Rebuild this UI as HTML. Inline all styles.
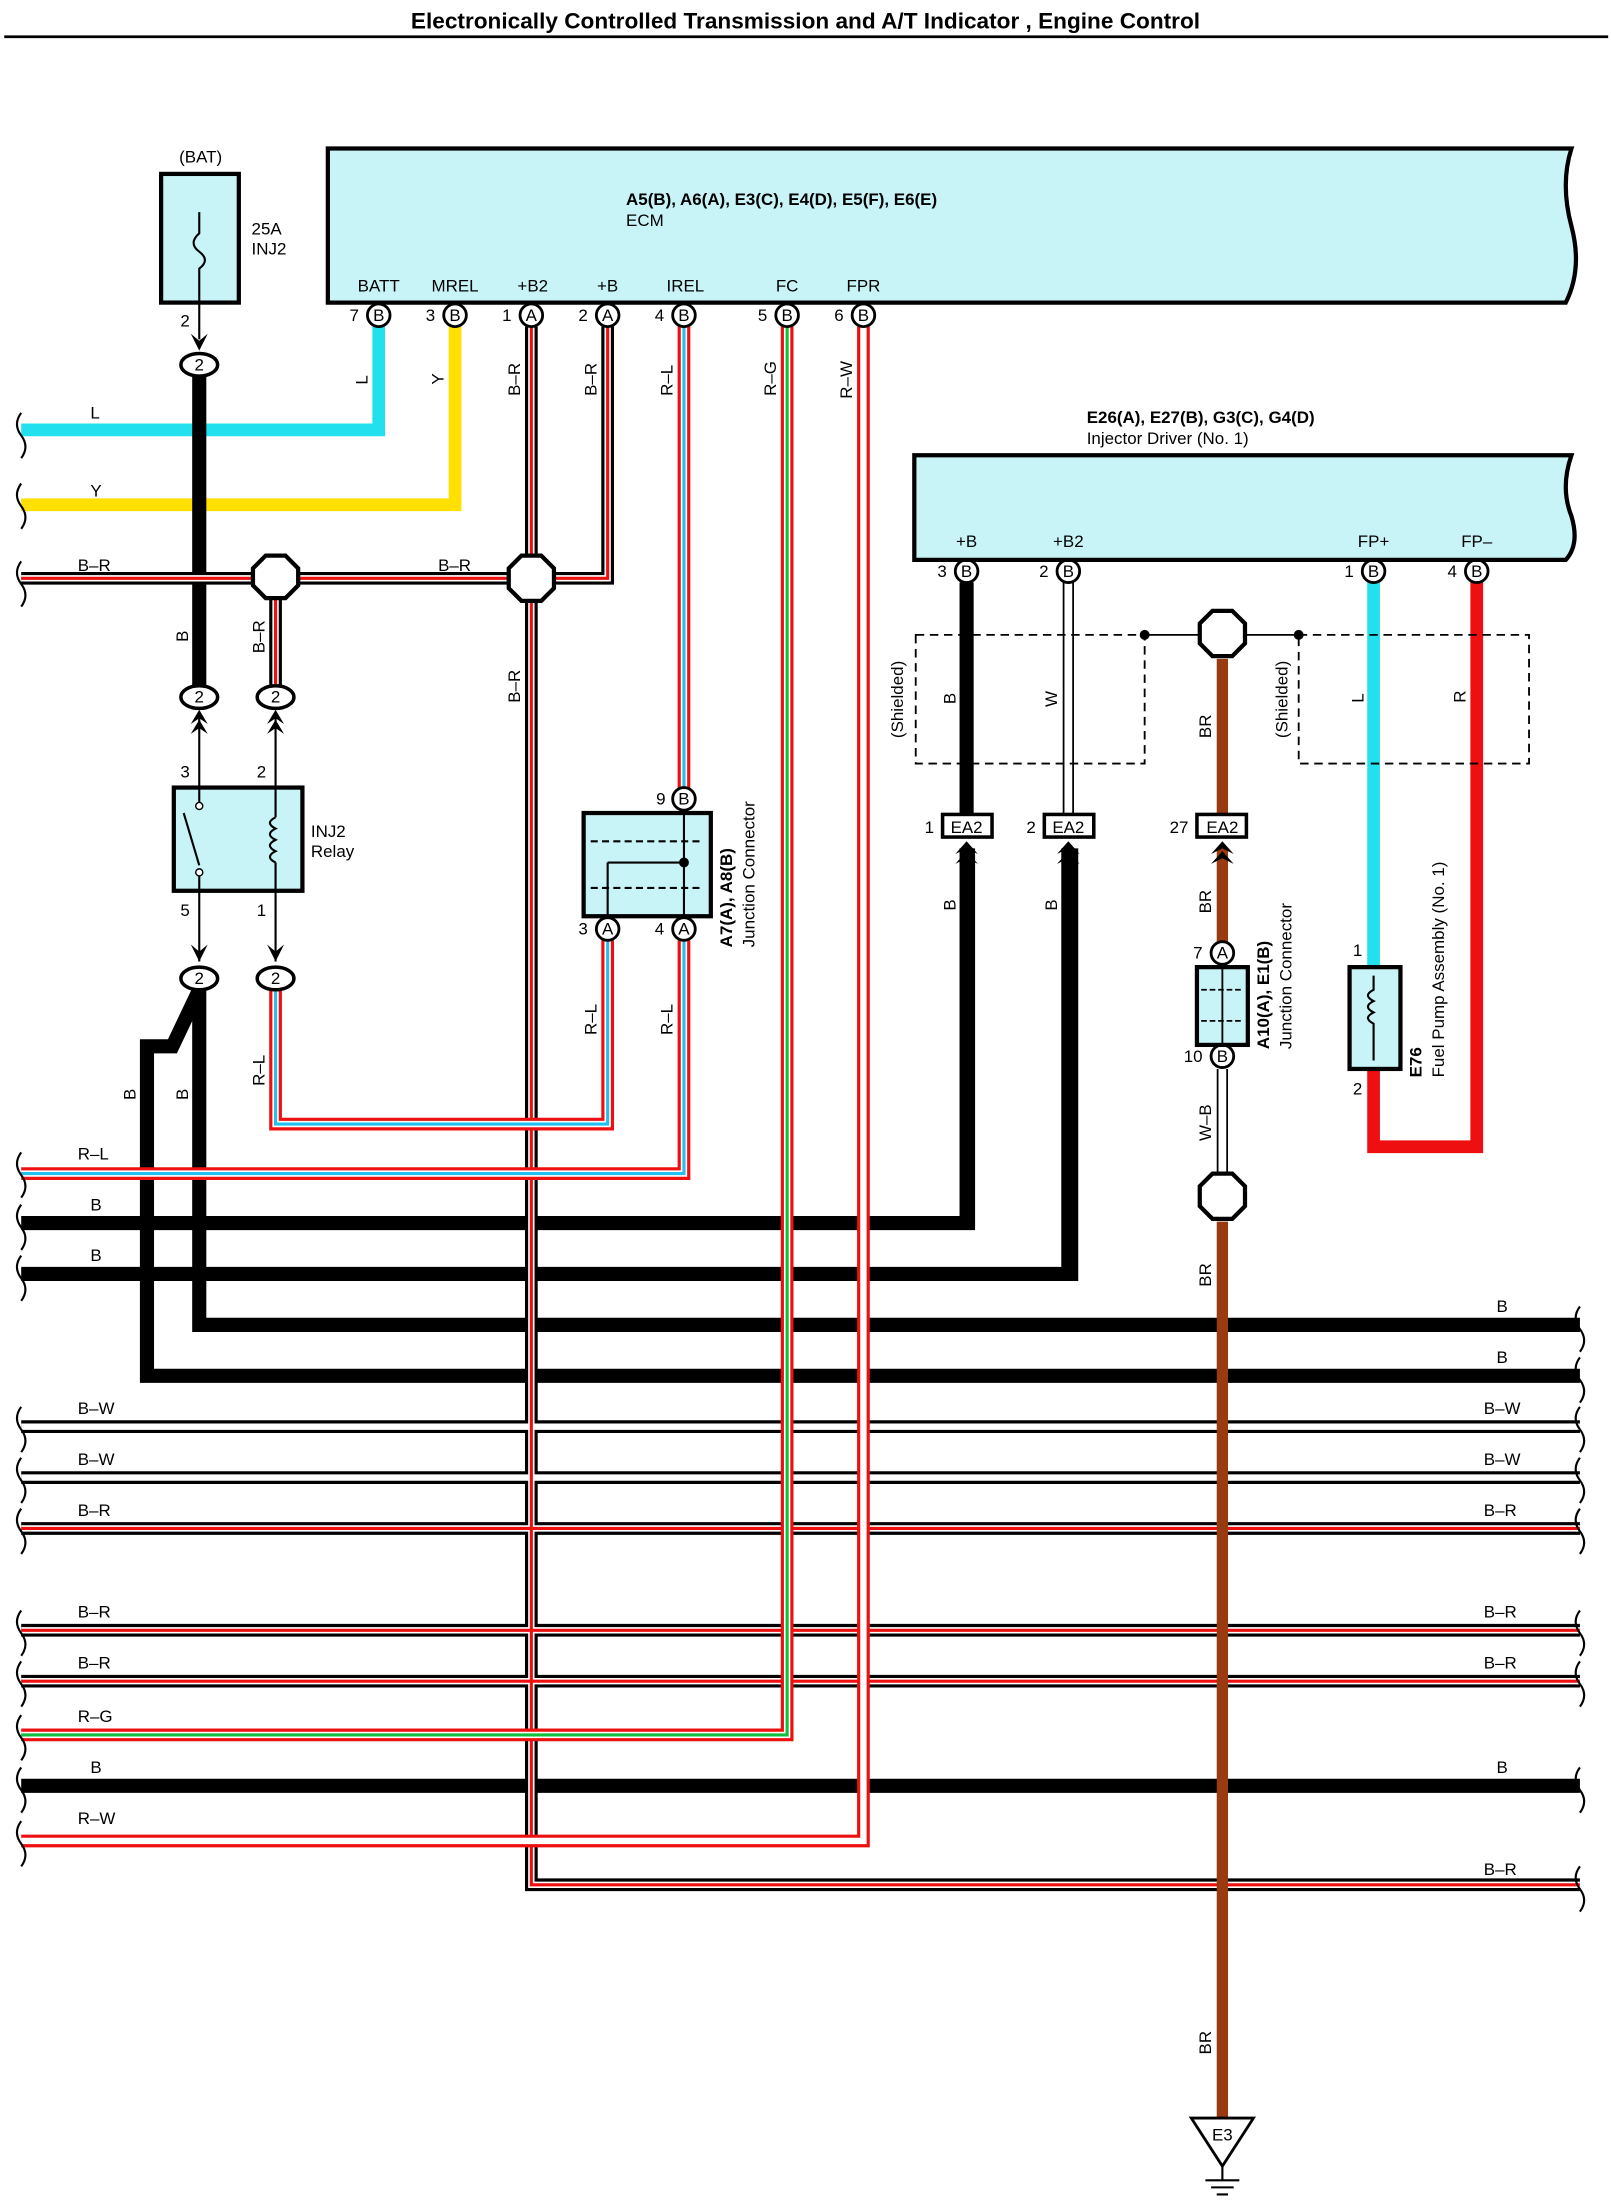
<!DOCTYPE html>
<html><head><meta charset="utf-8"><style>
html,body{margin:0;padding:0;background:#fff;}
svg{display:block;}
text{font-family:"Liberation Sans",Arial,sans-serif;font-size:12px;fill:#000;}
.b{font-weight:bold;}
</style></head><body>
<svg width="1611" height="2210" viewBox="0 0 1140 1563" preserveAspectRatio="none" xmlns="http://www.w3.org/2000/svg" xmlns:xlink="http://www.w3.org/1999/xlink">
<defs>
<path id="wL" d="M268,231 V304 H15"/>
<path id="wY" d="M322,231 V357 H15"/>
<path id="wBRa" d="M15,409 H376"/>
<path id="wBRb" d="M376,231 V1333 H1118"/>
<path id="wBRc" d="M430,231 V409 H376"/>
<path id="wBRd" d="M195,409 V486"/>
<path id="wB1" d="M141,266 V486"/>
<path id="wRL1" d="M195,700 V795 H430 V665"/>
<path id="wIREL" d="M484,231 V557"/>
<path id="wRL2" d="M484,665 V830 H15"/>
<path id="wB2" d="M15,865 H685 V600"/>
<path id="wB3" d="M15,901 H758 V600"/>
<path id="wFC" d="M557,231 V1227 H15"/>
<path id="wFPR" d="M611,231 V1302 H15"/>
<path id="wB4" d="M141,700 V937 H1118"/>
<path id="wB5" d="M141,700 L122,740 H104 V973 H1118"/>
<path id="sBW1" d="M15,1009 H1118"/>
<path id="sBW2" d="M15,1045 H1118"/>
<path id="sBR1" d="M15,1081 H1118"/>
<path id="sBR2" d="M15,1153 H1118"/>
<path id="sBR3" d="M15,1189 H1118"/>
<path id="sB" d="M15,1263 H1118"/>
<path id="iW" d="M756,412 V576"/>
<path id="iWB" d="M865,756 V830"/>
</defs>

<text x="570" y="20" text-anchor="middle" class="b" style="font-size:16px">Electronically Controlled Transmission and A/T Indicator , Engine Control</text>
<line x1="3" y1="26" x2="1138" y2="26" stroke="#000" stroke-width="2"/>

<!-- ECM box -->
<path d="M232,105 H1112 Q1104,130 1112,160 Q1120,190 1108,214 H232 Z" fill="#c8f4f8" stroke="#000" stroke-width="3"/>
<text x="443" y="145" class="b">A5(B), A6(A), E3(C), E4(D), E5(F), E6(E)</text>
<text x="443" y="160">ECM</text>
<g text-anchor="middle">
<text x="268" y="206">BATT</text><text x="322" y="206">MREL</text><text x="377" y="206">+B2</text><text x="430" y="206">+B</text><text x="485" y="206">IREL</text><text x="557" y="206">FC</text><text x="611" y="206">FPR</text>
</g>

<!-- Fuse -->
<rect x="114" y="123" width="55" height="91" fill="#c8f4f8" stroke="#000" stroke-width="3"/>
<path d="M141,150 V165 Q133,172 141,178 Q149,184 141,190 V214" fill="none" stroke="#000" stroke-width="1.5"/>
<text x="142" y="115" text-anchor="middle">(BAT)</text>
<text x="178" y="166">25A</text><text x="178" y="180">INJ2</text>
<text x="131" y="231" text-anchor="middle">2</text>
<line x1="141" y1="214" x2="141" y2="240" stroke="#000" stroke-width="1.5"/>
<path d="M135,236 L141,248 L147,236 L141,241 Z" fill="#000"/>

<!-- wires: solid -->
<g fill="none" stroke-linejoin="miter">
<use href="#wL" stroke="#22e0ee" stroke-width="9"/>
<use href="#wY" stroke="#ffe000" stroke-width="9"/>
<use href="#wB1" stroke="#000" stroke-width="10"/>
<use href="#wB2" stroke="#000" stroke-width="10"/>
<use href="#wB3" stroke="#000" stroke-width="10"/>
<use href="#wB4" stroke="#000" stroke-width="10"/>
<use href="#wB5" stroke="#000" stroke-width="10"/>
<use href="#sB" stroke="#000" stroke-width="10"/>
<!-- B-R style -->
<g stroke="#000" stroke-width="9"><use href="#wBRa"/><use href="#wBRb"/><use href="#wBRc"/><use href="#wBRd"/><use href="#sBR1"/><use href="#sBR2"/><use href="#sBR3"/><use href="#sBW1"/><use href="#sBW2"/></g>
<g stroke="#fff" stroke-width="4.5"><use href="#wBRa"/><use href="#wBRb"/><use href="#wBRc"/><use href="#wBRd"/><use href="#sBR1"/><use href="#sBR2"/><use href="#sBR3"/><use href="#sBW1"/><use href="#sBW2"/></g>
<g stroke="#ee1010" stroke-width="2.2"><use href="#wBRa"/><use href="#wBRb"/><use href="#wBRc"/><use href="#wBRd"/><use href="#sBR1"/><use href="#sBR2"/><use href="#sBR3"/></g>
<!-- R-L -->
<g stroke="#ee1010" stroke-width="9"><use href="#wRL1"/><use href="#wIREL"/><use href="#wRL2"/><use href="#wFC"/><use href="#wFPR"/></g>
<g stroke="#fff" stroke-width="4.5"><use href="#wRL1"/><use href="#wIREL"/><use href="#wRL2"/><use href="#wFC"/><use href="#wFPR"/></g>
<g stroke="#22c0ee" stroke-width="2.2"><use href="#wRL1"/><use href="#wIREL"/><use href="#wRL2"/></g>
<use href="#wFC" stroke="#10c040" stroke-width="2.2"/>
<!-- W, W-B -->
<g stroke="#000" stroke-width="8"><use href="#iW"/><use href="#iWB"/></g>
<g stroke="#fff" stroke-width="5.5"><use href="#iW"/><use href="#iWB"/></g>
<!-- injector side -->
<path d="M684,412 V576 M684,600 V865" stroke="#000" stroke-width="10"/>
<path d="M756,600 V901" stroke="#000" stroke-width="10"/>
<path d="M865,466 V576 M865,600 V666 M865,864 V1500" stroke="#9a3a10" stroke-width="8"/>
<path d="M972,412 V684" stroke="#22e0ee" stroke-width="9"/>
<path d="M1045,412 V811 H972 V756" stroke="#ee1010" stroke-width="9"/>
</g>

<!-- wavy ends -->
<g fill="none" stroke="#000" stroke-width="1.5">
<path d="M15,292 q-6,8 0,16 q6,8 0,16"/><path d="M15,342 q-6,8 0,16 q6,8 0,16"/><path d="M15,397 q-6,8 0,16 q6,8 0,16"/>
<path d="M15,815 q-6,8 0,16 q6,8 0,16"/><path d="M15,852 q-6,8 0,16 q6,8 0,16"/><path d="M15,888 q-6,8 0,16 q6,8 0,16"/>
<path d="M15,995 q-6,8 0,16 q6,8 0,16"/><path d="M15,1031 q-6,8 0,16 q6,8 0,16"/><path d="M15,1067 q-6,8 0,16 q6,8 0,16"/>
<path d="M15,1139 q-6,8 0,16 q6,8 0,16"/><path d="M15,1175 q-6,8 0,16 q6,8 0,16"/><path d="M15,1213 q-6,8 0,16 q6,8 0,16"/>
<path d="M15,1250 q-6,8 0,16 q6,8 0,16"/><path d="M15,1288 q-6,8 0,16 q6,8 0,16"/>
<path d="M1118,924 q-6,8 0,16 q6,8 0,16"/><path d="M1118,960 q-6,8 0,16 q6,8 0,16"/><path d="M1118,995 q-6,8 0,16 q6,8 0,16"/>
<path d="M1118,1031 q-6,8 0,16 q6,8 0,16"/><path d="M1118,1067 q-6,8 0,16 q6,8 0,16"/><path d="M1118,1139 q-6,8 0,16 q6,8 0,16"/>
<path d="M1118,1175 q-6,8 0,16 q6,8 0,16"/><path d="M1118,1250 q-6,8 0,16 q6,8 0,16"/><path d="M1118,1320 q-6,8 0,16 q6,8 0,16"/>
</g>

<!-- ECM pins -->
<g stroke="#000" stroke-width="2" fill="#fff">
<circle cx="268" cy="223" r="8"/><circle cx="322" cy="223" r="8"/><circle cx="376" cy="223" r="8"/><circle cx="430" cy="223" r="8"/><circle cx="484" cy="223" r="8"/><circle cx="557" cy="223" r="8"/><circle cx="611" cy="223" r="8"/>
<circle cx="484" cy="565" r="8"/><circle cx="430" cy="657" r="8"/><circle cx="484" cy="657" r="8"/>
<circle cx="684" cy="404" r="8"/><circle cx="756" cy="404" r="8"/><circle cx="972" cy="404" r="8"/><circle cx="1045" cy="404" r="8"/>
<circle cx="865" cy="674" r="8"/><circle cx="865" cy="747" r="8"/>
</g>
<g text-anchor="middle" style="font-size:11px">
<text x="268" y="227">B</text><text x="322" y="227">B</text><text x="376" y="227">A</text><text x="430" y="227">A</text><text x="484" y="227">B</text><text x="557" y="227">B</text><text x="611" y="227">B</text>
<text x="484" y="569">B</text><text x="430" y="661">A</text><text x="484" y="661">A</text>
<text x="684" y="408">B</text><text x="756" y="408">B</text><text x="972" y="408">B</text><text x="1045" y="408">B</text>
<text x="865" y="678">A</text><text x="865" y="751">B</text>
</g>
<g text-anchor="end">
<text x="254" y="227">7</text><text x="308" y="227">3</text><text x="362" y="227">1</text><text x="416" y="227">2</text><text x="470" y="227">4</text><text x="543" y="227">5</text><text x="597" y="227">6</text>
<text x="471" y="569">9</text><text x="416" y="661">3</text><text x="470" y="661">4</text>
<text x="670" y="408">3</text><text x="742" y="408">2</text><text x="958" y="408">1</text><text x="1031" y="408">4</text>
<text x="851" y="678">7</text><text x="851" y="751">10</text>
</g>

<!-- octagon junctions -->
<g fill="#fff" stroke="#000" stroke-width="3">
<path d="M188,395 h14 l9,9 v12 l-9,9 h-14 l-9,-9 v-12 z" transform="translate(0,-2)"/>
<path d="M369,393 h14 l9,9 v14 l-9,9 h-14 l-9,-9 v-14 z"/>
<path d="M858,432 h14 l9,9 v14 l-9,9 h-14 l-9,-9 v-14 z"/>
<path d="M858,830 h14 l9,9 v14 l-9,9 h-14 l-9,-9 v-14 z"/>
</g>

<!-- oval connectors -->
<g fill="#fff" stroke="#000" stroke-width="2.5">
<ellipse cx="141" cy="258" rx="13" ry="8"/><ellipse cx="141" cy="493" rx="13" ry="8"/><ellipse cx="195" cy="493" rx="13" ry="8"/>
<ellipse cx="141" cy="692" rx="13" ry="8"/><ellipse cx="195" cy="692" rx="13" ry="8"/>
</g>
<g text-anchor="middle"><text x="141" y="262">2</text><text x="141" y="497">2</text><text x="195" y="497">2</text><text x="141" y="696">2</text><text x="195" y="696">2</text></g>

<!-- relay -->
<g stroke="#000" stroke-width="1.5" fill="none">
<line x1="141" y1="505" x2="141" y2="557"/><line x1="195" y1="505" x2="195" y2="557"/>
<line x1="141" y1="630" x2="141" y2="680"/><line x1="195" y1="630" x2="195" y2="680"/>
</g>
<g fill="#000">
<path d="M135,512 L141,502 L147,512 L141,508 Z"/><path d="M135,519 L141,509 L147,519 L141,515 Z"/>
<path d="M189,512 L195,502 L201,512 L195,508 Z"/><path d="M189,519 L195,509 L201,519 L195,515 Z"/>
<path d="M135,668 L141,680 L147,668 L141,673 Z"/><path d="M189,668 L195,680 L201,668 L195,673 Z"/>
</g>
<rect x="123" y="557" width="91" height="73" fill="#c8f4f8" stroke="#000" stroke-width="3"/>
<g stroke="#000" stroke-width="1.5" fill="none">
<line x1="141" y1="557" x2="141" y2="570"/><line x1="130" y1="575" x2="141" y2="612"/><line x1="141" y1="617" x2="141" y2="630"/>
<line x1="195" y1="557" x2="195" y2="578"/><path d="M195,578 q-8,4 0,8 q-8,4 0,8 q-8,4 0,8 q-8,4 0,8"/><line x1="195" y1="610" x2="195" y2="630"/>
</g>
<circle cx="141" cy="570" r="2.5" fill="#fff" stroke="#000"/><circle cx="141" cy="617" r="2.5" fill="#fff" stroke="#000"/>
<text x="220" y="592">INJ2</text><text x="220" y="606">Relay</text>
<text x="131" y="550" text-anchor="middle">3</text><text x="185" y="550" text-anchor="middle">2</text>
<text x="131" y="648" text-anchor="middle">5</text><text x="185" y="648" text-anchor="middle">1</text>

<!-- junction connector A7/A8 -->
<rect x="413" y="575" width="90" height="73" fill="#c8f4f8" stroke="#000" stroke-width="3"/>
<g stroke="#000" stroke-width="1.5" fill="none">
<line x1="484" y1="575" x2="484" y2="648"/><line x1="430" y1="610" x2="430" y2="648"/><line x1="430" y1="610" x2="484" y2="610"/>
<line x1="418" y1="595" x2="498" y2="595" stroke-dasharray="5,3"/><line x1="418" y1="628" x2="498" y2="628" stroke-dasharray="5,3"/>
</g>
<circle cx="484" cy="610" r="3.5" fill="#000"/>
<text transform="translate(518,670) rotate(-90)" class="b">A7(A), A8(B)</text>
<text transform="translate(534,670) rotate(-90)">Junction Connector</text>

<!-- Injector driver -->
<text x="769" y="299" class="b">E26(A), E27(B), G3(C), G4(D)</text>
<text x="769" y="314">Injector Driver (No. 1)</text>
<path d="M647,322 H1112 Q1104,345 1112,365 Q1118,385 1108,396 H647 Z" fill="#c8f4f8" stroke="#000" stroke-width="3"/>
<g text-anchor="middle"><text x="684" y="387">+B</text><text x="756" y="387">+B2</text><text x="972" y="387">FP+</text><text x="1045" y="387">FP–</text></g>

<!-- shields -->
<g fill="none" stroke="#000" stroke-width="1.3" stroke-dasharray="6,4">
<rect x="648" y="449" width="162" height="91"/><rect x="919" y="449" width="163" height="91"/>
</g>
<line x1="810" y1="449" x2="849" y2="449" stroke="#000" stroke-width="1.3"/>
<line x1="881" y1="449" x2="919" y2="449" stroke="#000" stroke-width="1.3"/>
<circle cx="810" cy="449" r="3.5" fill="#000"/><circle cx="919" cy="449" r="3.5" fill="#000"/>
<text transform="translate(639,522) rotate(-90)">(Shielded)</text>
<text transform="translate(911,522) rotate(-90)">(Shielded)</text>

<!-- EA2 -->
<g fill="#fff" stroke="#000" stroke-width="2.5">
<rect x="667" y="576" width="35" height="16"/><rect x="739" y="576" width="35" height="16"/><rect x="847" y="576" width="35" height="16"/>
</g>
<g text-anchor="middle"><text x="684" y="589">EA2</text><text x="756" y="589">EA2</text><text x="865" y="589">EA2</text></g>
<g text-anchor="end"><text x="661" y="589">1</text><text x="733" y="589">2</text><text x="841" y="589">27</text></g>
<g fill="#000">
<path d="M676,604 L684,595 L692,604 L684,600 Z"/><path d="M676,611 L684,602 L692,611 L684,607 Z"/>
<path d="M748,604 L756,595 L764,604 L756,600 Z"/><path d="M748,611 L756,602 L764,611 L756,607 Z"/>
<path d="M857,604 L865,595 L873,604 L865,600 Z"/><path d="M857,611 L865,602 L873,611 L865,607 Z"/>
</g>

<!-- A10 junction -->
<rect x="847" y="684" width="36" height="55" fill="#c8f4f8" stroke="#000" stroke-width="3"/>
<g stroke="#000" stroke-width="1.3" fill="none"><line x1="865" y1="684" x2="865" y2="739"/><line x1="850" y1="700" x2="880" y2="700" stroke-dasharray="4,2"/><line x1="850" y1="722" x2="880" y2="722" stroke-dasharray="4,2"/></g>
<text transform="translate(898,742) rotate(-90)" class="b">A10(A), E1(B)</text>
<text transform="translate(914,742) rotate(-90)">Junction Connector</text>

<!-- fuel pump -->
<rect x="955" y="684" width="36" height="72" fill="#c8f4f8" stroke="#000" stroke-width="3"/>
<path d="M972,690 V700 q-8,4 0,8 q-8,4 0,8 q-8,4 0,8 V750" fill="none" stroke="#000" stroke-width="1.5"/>
<text x="964" y="676" text-anchor="end">1</text><text x="964" y="774" text-anchor="end">2</text>
<text transform="translate(1006,762) rotate(-90)" class="b">E76</text>
<text transform="translate(1022,762) rotate(-90)">Fuel Pump Assembly (No. 1)</text>

<!-- ground -->
<path d="M843,1498 H887 L865,1532 Z" fill="#fff" stroke="#000" stroke-width="2"/>
<text x="865" y="1514" text-anchor="middle">E3</text>
<g stroke="#000" stroke-width="1.5"><line x1="865" y1="1532" x2="865" y2="1542"/><line x1="853" y1="1542" x2="877" y2="1542"/><line x1="857" y1="1547" x2="873" y2="1547"/><line x1="861" y1="1552" x2="869" y2="1552"/></g>

<!-- wire labels horizontal -->
<g>
<text x="64" y="296">L</text><text x="64" y="351">Y</text><text x="55" y="404">B–R</text><text x="310" y="404">B–R</text>
<text x="55" y="820">R–L</text><text x="64" y="856">B</text><text x="64" y="892">B</text>
<text x="55" y="1000">B–W</text><text x="55" y="1036">B–W</text><text x="55" y="1072">B–R</text>
<text x="55" y="1144">B–R</text><text x="55" y="1180">B–R</text><text x="55" y="1218">R–G</text>
<text x="64" y="1254">B</text><text x="55" y="1290">R–W</text>
<text x="1059" y="928">B</text><text x="1059" y="964">B</text><text x="1050" y="1000">B–W</text><text x="1050" y="1036">B–W</text>
<text x="1050" y="1072">B–R</text><text x="1050" y="1144">B–R</text><text x="1050" y="1180">B–R</text><text x="1059" y="1254">B</text><text x="1050" y="1326">B–R</text>
</g>
<!-- vertical wire labels -->
<g>
<text transform="translate(260,272) rotate(-90)">L</text>
<text transform="translate(314,272) rotate(-90)">Y</text>
<text transform="translate(368,280) rotate(-90)">B–R</text>
<text transform="translate(422,280) rotate(-90)">B–R</text>
<text transform="translate(476,280) rotate(-90)">R–L</text>
<text transform="translate(549,280) rotate(-90)">R–G</text>
<text transform="translate(603,282) rotate(-90)">R–W</text>
<text transform="translate(133,454) rotate(-90)">B</text>
<text transform="translate(187,462) rotate(-90)">B–R</text>
<text transform="translate(368,497) rotate(-90)">B–R</text>
<text transform="translate(96,778) rotate(-90)">B</text>
<text transform="translate(133,778) rotate(-90)">B</text>
<text transform="translate(187,768) rotate(-90)">R–L</text>
<text transform="translate(422,732) rotate(-90)">R–L</text>
<text transform="translate(476,732) rotate(-90)">R–L</text>
<text transform="translate(676,498) rotate(-90)">B</text>
<text transform="translate(748,500) rotate(-90)">W</text>
<text transform="translate(857,522) rotate(-90)">BR</text>
<text transform="translate(965,497) rotate(-90)">L</text>
<text transform="translate(1037,497) rotate(-90)">R</text>
<text transform="translate(676,644) rotate(-90)">B</text>
<text transform="translate(748,644) rotate(-90)">B</text>
<text transform="translate(857,646) rotate(-90)">BR</text>
<text transform="translate(857,807) rotate(-90)">W–B</text>
<text transform="translate(857,910) rotate(-90)">BR</text>
<text transform="translate(857,1453) rotate(-90)">BR</text>
</g>
</svg>
</body></html>
